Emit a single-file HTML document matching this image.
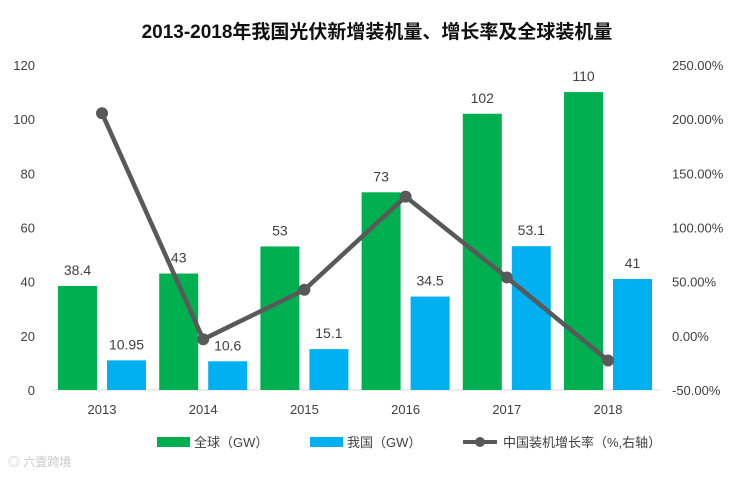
<!DOCTYPE html>
<html><head><meta charset="utf-8">
<style>
body{margin:0;background:#fff;}
svg text{font-family:"Liberation Sans","Noto Sans CJK SC",sans-serif;}
</style></head>
<body>
<svg id="c" width="754" height="473" xmlns="http://www.w3.org/2000/svg">
<text x="377" y="38" text-anchor="middle" font-size="19" font-weight="bold" fill="#111">2013-2018年我国光伏新增装机量、增长率及全球装机量</text>
<g id="axes"></g><g id="bars"></g><g id="line"></g>
<g>
<rect x="157" y="437" width="33" height="10" fill="#00b050"/>
<text x="194" y="447" font-size="13" fill="#404040">全球（GW）</text>
<rect x="310" y="437" width="33" height="10" fill="#00b0f0"/>
<text x="347" y="447" font-size="13" fill="#404040">我国（GW）</text>
<line x1="463" y1="442" x2="497" y2="442" stroke="#595959" stroke-width="4"/>
<circle cx="480" cy="442" r="5" fill="#595959"/>
<text x="503" y="447" font-size="13" fill="#404040">中国装机增长率（%,右轴）</text>
</g>
<text x="8" y="466" font-size="12" fill="#c8c8c8">◎ 六壹跨境</text>
</svg>
<script>
const categories=["2013","2014","2015","2016","2017","2018"];
const globalValues=[38.4,43,53,73,102,110];
const chinaValues=[10.95,10.6,15.1,34.5,53.1,41];
const growthValues=[205.5,-3.2,42.5,128.5,53.9,-22.8];
const leftTicks=[0,20,40,60,80,100,120];
const rightTicks=[-50,0,50,100,150,200,250];
const NS="http://www.w3.org/2000/svg";
const yTop=65,yBot=390;
const yL=v=>yBot-(v/120)*(yBot-yTop);
const yR=v=>yBot-((v+50)/300)*(yBot-yTop);
const xC=i=>102+i*101.2;
function mk(t,a,p,txt){const e=document.createElementNS(NS,t);for(const k in a)e.setAttribute(k,a[k]);if(txt!==undefined)e.textContent=txt;p.appendChild(e);return e;}
const ax=document.getElementById('axes'),bg=document.getElementById('bars'),lg=document.getElementById('line');
mk('line',{x1:52,y1:yBot,x2:660,y2:yBot,stroke:'#d9d9d9'},ax);
leftTicks.forEach(v=>{const t=mk('text',{x:35,y:yL(v)+5,'text-anchor':'end','font-size':13,fill:'#404040'},ax,String(v));

});
rightTicks.forEach(v=>{const t=mk('text',{x:672,y:yR(v)+5,'font-size':13,fill:'#404040'},ax,v.toFixed(2)+'%');

});
categories.forEach((c,i)=>{const t=mk('text',{x:xC(i),y:414,'text-anchor':'middle','font-size':13,fill:'#404040'},ax,c);


const g=mk('rect',{x:xC(i)-44,y:yL(globalValues[i]),width:39,height:yBot-yL(globalValues[i]),fill:'#00b050'},bg);


const gl=mk('text',{x:xC(i)-24.5,y:yL(globalValues[i])-11,'text-anchor':'middle','font-size':14,fill:'#404040'},bg,String(globalValues[i]));


const b=mk('rect',{x:xC(i)+5,y:yL(chinaValues[i]),width:39,height:yBot-yL(chinaValues[i]),fill:'#00b0f0'},bg);


const bl=mk('text',{x:xC(i)+24.5,y:yL(chinaValues[i])-11,'text-anchor':'middle','font-size':14,fill:'#404040'},bg,String(chinaValues[i]));

});
const pl=mk('polyline',{points:growthValues.map((v,i)=>xC(i)+','+yR(v)).join(' '),fill:'none',stroke:'#595959','stroke-width':4.5,'stroke-linejoin':'round'},lg);


growthValues.forEach((v,i)=>{const c=mk('circle',{cx:xC(i),cy:yR(v),r:6,fill:'#595959'},lg);

});
</script>
</body></html>
